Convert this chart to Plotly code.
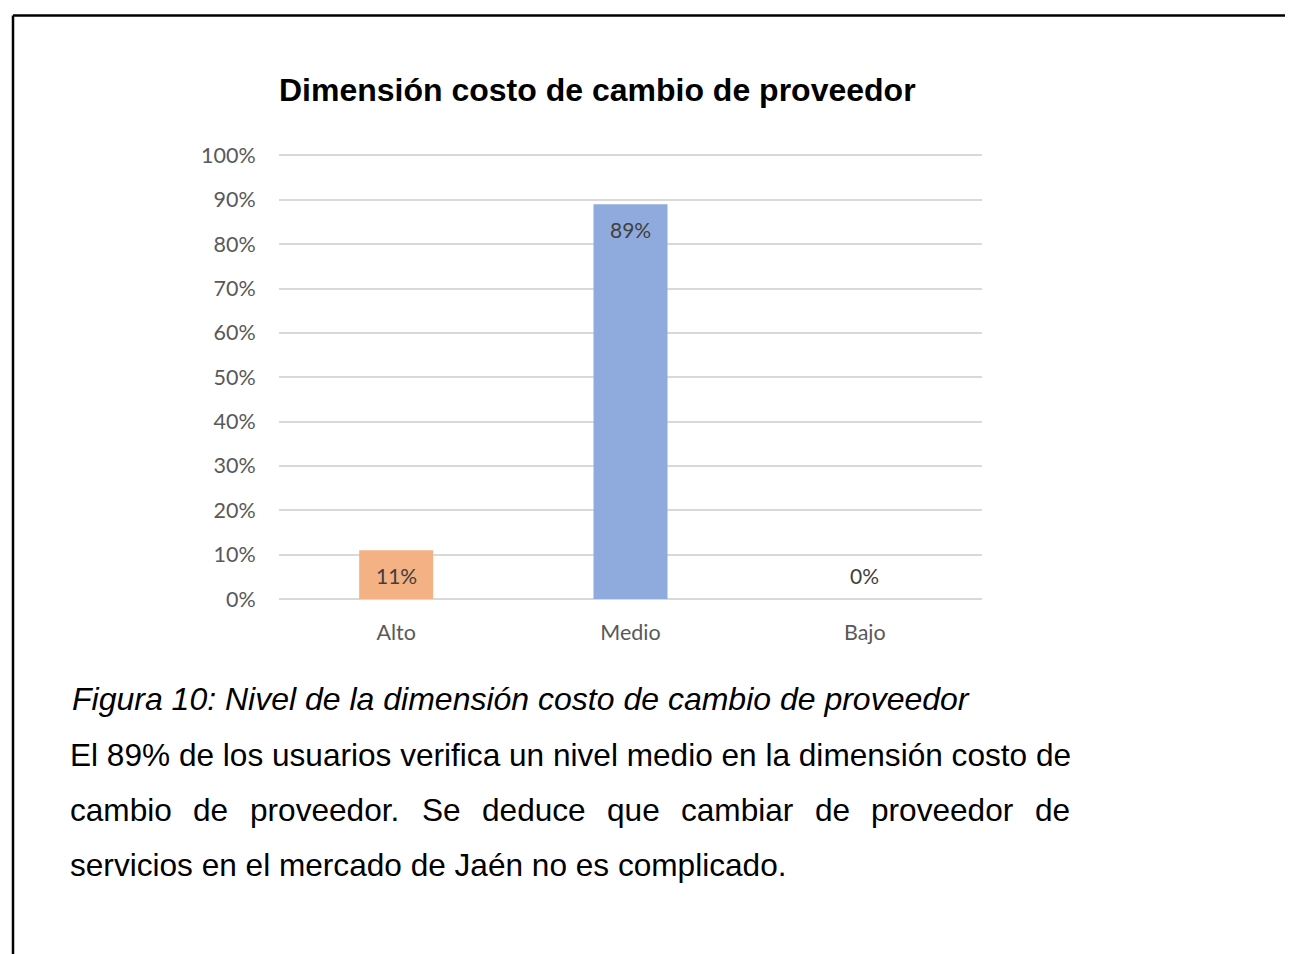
import plotly.graph_objects as go

categories = ["Alto", "Medio", "Bajo"]
values = [0.11, 0.89, 0.0]
value_labels = ["11%", "89%", "0%"]
bar_colors = ["#F4B183", "#8FAADC", "#A9D18E"]

title_text = "Dimensión costo de cambio de proveedor"
caption_text = "Figura 10: Nivel de la dimensión costo de cambio de proveedor"
body_line1 = "El 89% de los usuarios verifica un nivel medio en la dimensión costo de"
body_line2_words = ["cambio", "de", "proveedor.", "Se", "deduce", "que", "cambiar", "de", "proveedor", "de"]
body_line2_x = [70, 193, 250, 422, 482, 607, 681, 815, 871, 1035]
body_line3 = "servicios en el mercado de Jaén no es complicado."

OFF = 8  # page body margin
W, H = 1293 - OFF, 954 - OFF
YMAX = 1.01
Lp, Rp, Bp = 279, 982, 599  # plot area in page pixels
Tp = Bp - 444 * YMAX          # 100% line sits at page y 155

def px(x):
    return (x - Lp) / (Rp - Lp)

def py(y):
    return (Bp - y) / (Bp - Tp)

fig = go.Figure()
fig.add_trace(go.Bar(x=categories, y=values, marker=dict(color=bar_colors, line=dict(width=0)),
                     hoverinfo="skip"))

annotations = []
for c, v, t in zip(categories, values, value_labels):
    annotations.append(dict(x=c, y=v, xref="x", yref="y", text=t, showarrow=False,
                            yanchor="middle", yshift=(-25 if v > 0 else 24),
                            font=dict(family="Lato", size=21, color="#404040")))

annotations.append(dict(x=px(597.5), y=py(89), xref="paper", yref="paper", text="<b>" + title_text + "</b>",
                        showarrow=False, xanchor="center", yanchor="middle",
                        font=dict(family="Liberation Sans, Arial", size=32, color="#000000")))
annotations.append(dict(x=px(70), y=py(699), xref="paper", yref="paper", text="<i>" + caption_text + "</i>",
                        showarrow=False, xanchor="left", yanchor="middle",
                        font=dict(family="Liberation Sans, Arial", size=32, color="#000000")))
annotations.append(dict(x=px(68), y=py(755), xref="paper", yref="paper", text=body_line1,
                        showarrow=False, xanchor="left", yanchor="middle",
                        font=dict(family="Liberation Sans, Arial", size=31.6, color="#000000")))
for w, xw in zip(body_line2_words, body_line2_x):
    annotations.append(dict(x=px(xw - 2), y=py(810), xref="paper", yref="paper", text=w,
                            showarrow=False, xanchor="left", yanchor="middle",
                            font=dict(family="Liberation Sans, Arial", size=31.6, color="#000000")))
annotations.append(dict(x=px(68), y=py(865), xref="paper", yref="paper", text=body_line3,
                        showarrow=False, xanchor="left", yanchor="middle",
                        font=dict(family="Liberation Sans, Arial", size=31.6, color="#000000")))

shapes = [
    dict(type="line", xref="paper", yref="paper", x0=px(13), x1=px(1310), y0=py(15), y1=py(15),
         line=dict(color="#000000", width=2.5)),
    dict(type="line", xref="paper", yref="paper", x0=px(13), x1=px(13), y0=py(15), y1=py(970),
         line=dict(color="#000000", width=2.5)),
]

fig.update_layout(
    width=W, height=H,
    margin=dict(l=Lp - OFF, r=W - (Rp - OFF), t=Tp - OFF, b=H - (Bp - OFF), pad=0),
    paper_bgcolor="white", plot_bgcolor="white",
    showlegend=False,
    bargap=1 - 74 / ((Rp - Lp) / 3),
    annotations=annotations,
    shapes=shapes,
    xaxis=dict(showgrid=False, showline=False, zeroline=False, ticks="outside", ticklen=14,
               tickcolor="rgba(0,0,0,0)", tickfont=dict(family="Lato", size=21.5, color="#595959"),
               fixedrange=True),
    yaxis=dict(range=[0, YMAX], tickvals=[i / 10 for i in range(11)], tickformat=".0%",
               showgrid=True, gridcolor="#D9D9D9",
               gridwidth=1.5, zeroline=True, zerolinecolor="#D9D9D9", zerolinewidth=1.5,
               showline=False, ticks="outside", ticklen=18, tickcolor="rgba(0,0,0,0)",
               tickfont=dict(family="Lato", size=21.5, color="#595959"), fixedrange=True),
)

fig.write_html("out.html")
